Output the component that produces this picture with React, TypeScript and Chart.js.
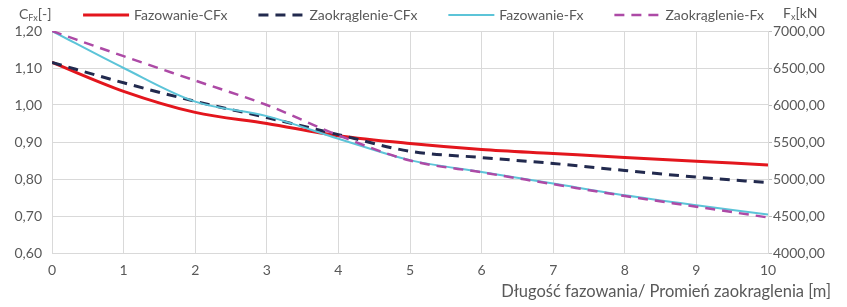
import React, { useEffect, useRef } from 'react';
import { Chart, registerables } from 'chart.js';

Chart.register(...registerables);

// ---- data ----
const xValues = [0, 1, 2, 3, 4, 5, 6, 7, 8, 9, 10];
const fazowanieCFx = [1.115, 1.037, 0.98, 0.95, 0.917, 0.896, 0.88, 0.869, 0.858, 0.848, 0.838];
const zaokraglenieCFx = [1.115, 1.06, 1.01, 0.966, 0.92, 0.875, 0.858, 0.842, 0.823, 0.805, 0.79];
const fazowanieFx = [7000, 6500, 6045, 5850, 5545, 5255, 5095, 4938, 4780, 4645, 4520];
const zaokraglenieFx = [7000, 6660, 6330, 6000, 5590, 5250, 5090, 4930, 4770, 4625, 4480];
const seriesNames = ['Fazowanie-CFx', 'Zaokrąglenie-CFx', 'Fazowanie-Fx', 'Zaokrąglenie-Fx'];
const xTitle = 'Długość fazowania/ Promień zaokraglenia [m]';
const leftTitle = ['C', 'Fx', '[-]'];
const rightTitle = ['F', 'x', '[kN'];

const FONT = 'Lato, "Noto Sans", sans-serif';
const TEXT = '#595959';
const GRID = '#D9D9D9';

const colors = ['#E3161D', '#222A4E', '#5CC4D8', '#AD4AA6'];
const widths = [3, 3, 2, 2.5];
const dashes: number[][] = [[], [10, 7], [], [10, 7]];

const toPoints = (ys: number[]) => xValues.map((x, i) => ({ x, y: ys[i] }));

const overlayPlugin = {
  id: 'overlay',
  afterDraw(chart: any) {
    const ctx = chart.ctx as CanvasRenderingContext2D;
    ctx.save();
    ctx.fillStyle = TEXT;
    ctx.textBaseline = 'middle';
    // legend
    ctx.font = `14px ${FONT}`;
    const lineW = 46, textGap = 5, itemGap = 31;
    const textWs = seriesNames.map((n) => ctx.measureText(n).width);
    const total = textWs.reduce((a, w) => a + lineW + textGap + w, 0) + itemGap * (seriesNames.length - 1);
    let x = (chart.width - total) / 2;
    const ly = 15;
    seriesNames.forEach((n, i) => {
      ctx.save();
      ctx.strokeStyle = colors[i];
      ctx.lineWidth = widths[i];
      ctx.setLineDash(dashes[i]);
      ctx.beginPath();
      ctx.moveTo(x, ly);
      ctx.lineTo(x + lineW, ly);
      ctx.stroke();
      ctx.restore();
      ctx.textAlign = 'left';
      ctx.fillText(n, x + lineW + textGap, ly);
      x += lineW + textGap + textWs[i] + itemGap;
    });
    // axis titles with subscripts
    const drawSub = (parts: string[], sx: number, y: number) => {
      ctx.textAlign = 'left';
      ctx.font = `14px ${FONT}`;
      ctx.fillText(parts[0], sx, y);
      let cx = sx + ctx.measureText(parts[0]).width;
      ctx.font = `9px ${FONT}`;
      ctx.fillText(parts[1], cx, y + 4);
      cx += ctx.measureText(parts[1]).width;
      ctx.font = `14px ${FONT}`;
      ctx.fillText(parts[2], cx, y);
    };
    drawSub(leftTitle, 19, 14);
    drawSub(rightTitle, 783, 13);
    // x title
    ctx.font = `16.5px ${FONT}`;
    ctx.textAlign = 'right';
    ctx.fillText(xTitle, 831, 292);
    ctx.restore();
  },
};

export default function App() {
  const ref = useRef<HTMLCanvasElement>(null);
  useEffect(() => {
    document.body.style.margin = '0';
    const datasets = [fazowanieCFx, zaokraglenieCFx, fazowanieFx, zaokraglenieFx].map((ys, i) => ({
      label: seriesNames[i],
      data: toPoints(ys),
      borderColor: colors[i],
      backgroundColor: colors[i],
      borderWidth: widths[i],
      borderDash: dashes[i],
      pointRadius: 0,
      cubicInterpolationMode: 'monotone' as const,
      yAxisID: i < 2 ? 'y' : 'y1',
      order: 4 - i,
    }));
    const tickFont = { family: FONT, size: 14 };
    const fmt = (v: any) => Number(v).toFixed(2).replace('.', ',');
    const chart = new Chart(ref.current!, {
      type: 'line',
      data: { datasets },
      options: {
        animation: false,
        responsive: false,
        layout: { padding: { top: 31, left: 0, right: 0, bottom: 0 } },
        plugins: { legend: { display: false }, tooltip: { enabled: false } },
        scales: {
          x: {
            type: 'linear',
            min: 0,
            max: 10,
            ticks: { stepSize: 1, color: TEXT, font: tickFont, padding: 9 },
            grid: { color: GRID, drawTicks: false },
            border: { color: GRID },
            afterFit: (s: any) => { s.height = 54; },
          },
          y: {
            position: 'left',
            min: 0.6,
            max: 1.2,
            ticks: { stepSize: 0.1, color: TEXT, font: tickFont, padding: 10, callback: fmt },
            grid: { color: GRID, drawTicks: false },
            border: { color: GRID },
            afterFit: (s: any) => { s.width = 52; },
          },
          y1: {
            position: 'right',
            min: 4000,
            max: 7000,
            ticks: { stepSize: 500, color: TEXT, font: tickFont, padding: 1, callback: fmt },
            grid: { drawOnChartArea: false, color: '#BFBFBF', tickLength: 4 },
            border: { color: GRID },
            afterFit: (s: any) => { s.width = 79; },
          },
        },
      },
      plugins: [overlayPlugin],
    });
    return () => chart.destroy();
  }, []);
  return (
    <div style={{ width: 847, height: 307 }}>
      <canvas ref={ref} width={847} height={307} style={{ display: 'block' }} />
    </div>
  );
}
